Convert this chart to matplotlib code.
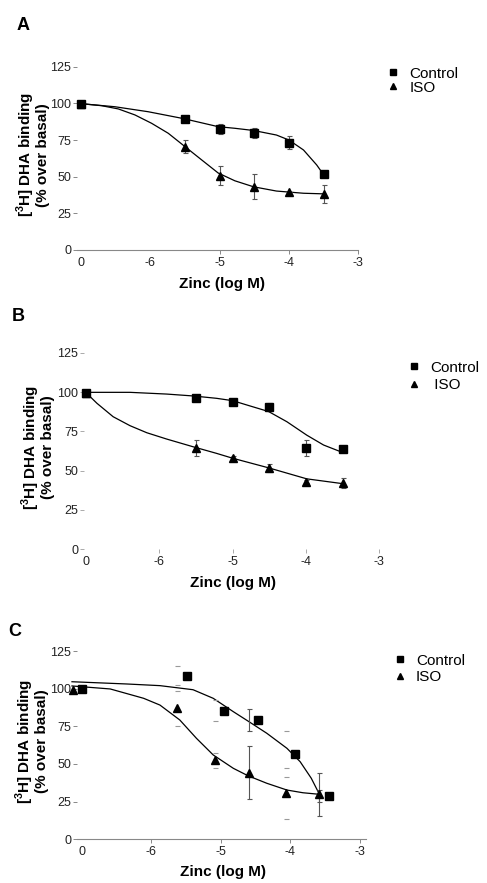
import numpy as np
import matplotlib.pyplot as plt
from matplotlib.lines import Line2D

plt.rcParams['font.family'] = ['Liberation Sans', 'DejaVu Sans']
plt.rcParams['mathtext.fontset'] = 'custom'
plt.rcParams['mathtext.rm'] = 'Liberation Sans'
plt.rcParams['mathtext.bf'] = 'Liberation Sans:bold'
plt.rcParams['axes.unicode_minus'] = False

# datos (x = log M, -7 es el "0" sin zinc)
conc = [-7, -5.5, -5, -4.5, -4, -3.5]
tick_pos = [-7, -6, -5, -4, -3]
tick_lab = ['0', '-6', '-5', '-4', '-3']
y_ticks = [0, 25, 50, 75, 100, 125]

# Panel A
a_ctrl = [99.8, 89.1, 82.5, 79.6, 73.2, 52.0]
a_ctrl_err = [0, 1.0, 3.2, 3.4, 4.5, 0]
a_iso = [99.8, 70.5, 50.7, 43.2, 39.3, 38.0]
a_iso_err = [0, 4.5, 6.4, 8.5, 0, 6.2]
a_fit_ctrl_x = [-7, -6.51, -6.03, -5.52, -5.02, -4.78, -4.51, -4.18, -4.0, -3.79, -3.6, -3.51]
a_fit_ctrl = [99.8, 97.7, 94.3, 89.6, 84.1, 83.0, 81.5, 78.4, 75.0, 68.2, 58.0, 52.0]
a_fit_iso_x = [-7, -6.70, -6.46, -6.22, -5.98, -5.74, -5.52, -5.26, -5.02, -4.78, -4.51, -4.18,
               -3.79, -3.51]
a_fit_iso = [99.8, 98.4, 96.2, 92.1, 86.4, 79.6, 71.3, 61.5, 52.5, 47.2, 43.1, 40.2, 38.7, 38.3]

# Panel B
b_ctrl = [99.6, 96.0, 93.8, 90.3, 64.2, 63.8]
b_ctrl_err = [0, 2.0, 0, 2.5, 5.0, 1.5]
b_iso = [99.6, 64.2, 57.9, 51.5, 43.0, 42.0]
b_iso_err = [0, 5.0, 1.5, 2.5, 1.0, 3.2]
b_fit_ctrl_x = [-7, -6.4, -5.9, -5.54, -5.22, -5.0, -4.76, -4.51, -4.26, -3.99, -3.76, -3.53]
b_fit_ctrl = [99.8, 99.8, 98.7, 97.5, 96.0, 94.5, 91.1, 87.6, 81.1, 72.6, 66.3, 62.1]
b_fit_iso_x = [-7, -6.85, -6.63, -6.40, -6.17, -5.90, -5.54, -5.22, -5.0, -4.51, -3.99, -3.51]
b_fit_iso = [99.6, 92.8, 84.3, 78.6, 74.1, 70.1, 65.2, 61.0, 57.9, 51.8, 44.8, 41.8]

# Panel C (puntos desplazados en x en el original)
c_ctrl_x = [-7.0, -5.49, -4.955, -4.47, -3.93, -3.44]
c_ctrl = [99.6, 108.6, 85.2, 79.2, 56.6, 28.7]
c_iso_x = [-7.13, -5.63, -5.09, -4.60, -4.06, -3.59]
c_iso = [99.1, 87.0, 52.6, 44.2, 30.5, 29.9]
c_ctrl_err = [0, 6.2, 7.0, 7.2, 15.2, 3.7]
c_iso_err = [0, 11.6, 5.0, 17.7, 17.0, 14.2]
c_bar_line = [False, False, False, True, False, True]
c_fit_ctrl_x = [-7.14, -6.35, -5.875, -5.40, -5.11, -4.82, -4.61, -4.34, -4.05, -3.86, -3.70, -3.59]
c_fit_ctrl = [104.6, 103.1, 102.0, 99.3, 93.6, 84.7, 78.5, 70.4, 60.4, 51.5, 40.5, 30.5]
c_fit_iso_x = [-7.14, -6.59, -6.11, -5.875, -5.59, -5.35, -5.11, -4.82, -4.61, -4.34, -4.05,
               -3.82, -3.59]
c_fit_iso = [101.8, 99.8, 93.6, 89.1, 79.2, 67.0, 56.0, 47.1, 42.2, 37.2, 32.7, 30.9, 29.9]

W, H = 487, 883
fig = plt.figure(figsize=(W / 100, H / 100), dpi=100)

def px(x0, y0, x1, y1):
    # rectangulo en pixeles -> fracciones de figura
    return [x0 / W, 1 - y1 / H, (x1 - x0) / W, (y1 - y0) / H]

axA = fig.add_axes(px(76.7, 66.7, 358.3, 250))
axB = fig.add_axes(px(83.8, 352.7, 379.3, 549.3))
axC = fig.add_axes(px(76.7, 651, 365.7, 839.3))

ylab = '[$^\\mathbf{3}$H] DHA binding\n(% over basal)'

def base(ax, xlim, spine, tcol, hide_ticks):
    ax.set_xlim(*xlim)
    ax.set_ylim(0, 125)
    for s in ['top', 'right', 'left']:
        ax.spines[s].set_visible(False)
    ax.spines['bottom'].set_visible(spine)
    ax.spines['bottom'].set_color('#888888')
    ax.spines['bottom'].set_linewidth(0.8)
    ax.set_xticks(tick_pos)
    ax.set_xticklabels(tick_lab)
    ax.set_yticks(y_ticks)
    ax.tick_params(axis='x', direction='out', length=3, width=0.7, color=tcol,
                   labelsize=9, labelcolor='#222222', pad=2)
    ax.tick_params(axis='y', direction='out', length=3, width=0.7, color=tcol,
                   labelsize=9, labelcolor='#222222', pad=1)
    for i in hide_ticks:
        ax.xaxis.get_major_ticks()[i].tick1line.set_visible(False)
    ax.set_xlabel('Zinc (log M)', fontsize=11, fontweight='bold')
    ax.xaxis.label.set_va('center')
    ax.text(-0.158, 0.52, ylab, transform=ax.transAxes, rotation=90, ha='center',
            va='center', fontsize=11, fontweight='bold', linespacing=0.92)

base(axA, (-7.06, -3), True, '#888888', [0, 1])
base(axB, (-7.03, -3), False, '#aaaaaa', [0])
base(axC, (-7.072, -2.918), True, '#888888', [0])
axA.xaxis.set_label_coords(0.515, -34 / 183.3)
axB.xaxis.set_label_coords(0.505, -34 / 196.6)
axC.xaxis.set_label_coords(0.505, -33 / 188.3)

ms_sq, ms_tr = 5.8, 6.0
ekw = dict(fmt='none', ecolor='#555555', elinewidth=0.8, capsize=1.8, capthick=0.8, clip_on=False)

# A y B: mismo esquema
for ax, ctrl, cerr, iso, ierr, fcx, fc, fix, fi in [
        (axA, a_ctrl, a_ctrl_err, a_iso, a_iso_err, a_fit_ctrl_x, a_fit_ctrl, a_fit_iso_x, a_fit_iso),
        (axB, b_ctrl, b_ctrl_err, b_iso, b_iso_err, b_fit_ctrl_x, b_fit_ctrl, b_fit_iso_x, b_fit_iso)]:
    ax.plot(fcx, fc, color='black', lw=0.9, clip_on=False)
    ax.plot(fix, fi, color='black', lw=0.9, clip_on=False)
    ax.errorbar(conc, ctrl, yerr=cerr, **ekw)
    ax.errorbar(conc, iso, yerr=ierr, **ekw)
    ax.plot(conc, ctrl, 's', color='black', ms=ms_sq, clip_on=False)
    ax.plot(conc, iso, '^', color='black', ms=ms_tr, clip_on=False)

# C
axC.plot(c_fit_ctrl_x, c_fit_ctrl, color='black', lw=0.9, clip_on=False)
axC.plot(c_fit_iso_x, c_fit_iso, color='black', lw=0.9, clip_on=False)
line_idx = [i for i, v in enumerate(c_bar_line) if v]
cap_idx = [i for i, v in enumerate(c_bar_line) if not v and c_ctrl_err[i] > 0]
for vals, errs in [(c_ctrl, c_ctrl_err), (c_iso, c_iso_err)]:
    axC.errorbar([c_iso_x[i] for i in line_idx], [vals[i] for i in line_idx],
                 yerr=[errs[i] for i in line_idx], **ekw)
    eb = axC.errorbar([c_iso_x[i] for i in cap_idx], [vals[i] for i in cap_idx],
                      yerr=[errs[i] for i in cap_idx], fmt='none', ecolor='#999999',
                      elinewidth=0.8, capsize=1.8, capthick=0.8, clip_on=False)
    eb[2][0].set_visible(False)
axC.plot(c_ctrl_x, c_ctrl, 's', color='black', ms=ms_sq, clip_on=False)
axC.plot(c_iso_x, c_iso, '^', color='black', ms=ms_tr, clip_on=False)

# leyendas
def leyenda(mx, my, row, labels):
    h = [Line2D([], [], ls='none', marker='s', color='black', ms=4.2),
         Line2D([], [], ls='none', marker='^', color='black', ms=4.5)]
    fs = 11
    fpx = fs * 100 / 72
    sp = (row - 1.2 * fpx) / fpx
    fig.legend(h, labels, loc='upper left', frameon=False, fontsize=fs,
               bbox_to_anchor=((mx - 0.5 * fpx) / W, 1 - (my - 0.6 * fpx) / H),
               borderpad=0, borderaxespad=0, handlelength=1.0, handletextpad=0.55,
               labelspacing=max(sp, 0))

leyenda(393.3, 76, 17.3, ['Control', 'ISO'])
leyenda(414.3, 370, 21.7, ['Control', ' ISO'])
leyenda(400, 662.7, 20.7, ['Control', 'ISO'])

# letras de panel
for letra, xx, yy in [('A', 16.7, 25.8), ('B', 11.7, 316.7), ('C', 8.3, 631.7)]:
    fig.text(xx / W, 1 - yy / H, letra, fontsize=13, fontweight='bold', ha='left', va='center')

fig.savefig('out.png', dpi=100)
